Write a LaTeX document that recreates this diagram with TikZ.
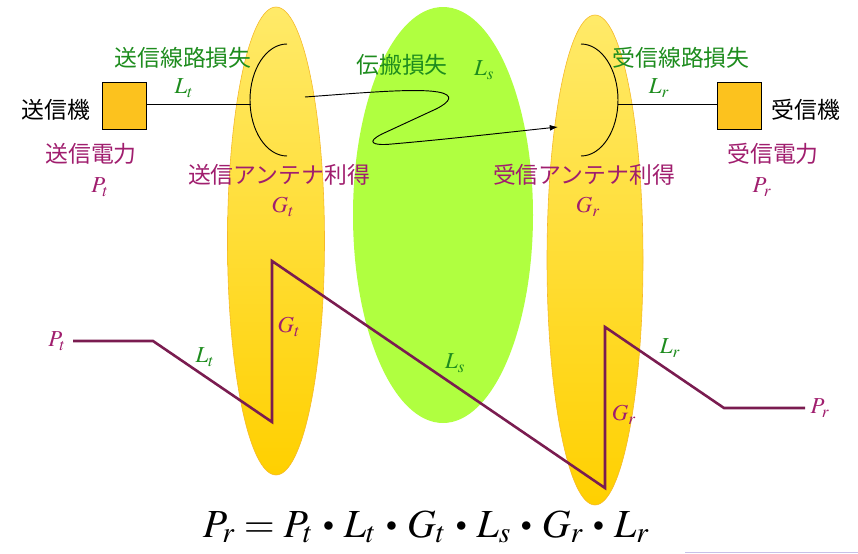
\documentclass[tikz,border=0pt]{standalone}
\usepackage{mathptmx}
\usepackage[no-math]{fontspec}
\newfontfamily\jpfont{Noto Sans CJK JP}
\usetikzlibrary{arrows.meta}
\definecolor{lossgreen}{RGB}{30,140,30}
\definecolor{gainpurple}{RGB}{160,30,110}
\definecolor{levelplum}{RGB}{122,28,80}
\definecolor{boxgold}{RGB}{252,194,30}
\definecolor{antlight}{RGB}{255,234,105}
\definecolor{antdeep}{RGB}{255,208,0}
\definecolor{antedge}{RGB}{245,185,40}
\definecolor{pathgreen}{RGB}{176,255,64}
\definecolor{rulelav}{RGB}{200,192,232}
\newcommand{\budgetdot}{\mathbin{\,\vcenter{\hbox{\scalebox{0.55}{$\bullet$}}}\,}}
\begin{document}
\begin{tikzpicture}[x=0.03cm, y=-0.03cm,
    jp/.style={font=\jpfont\fontsize{19.5}{22}\selectfont, inner sep=0pt},
    sym/.style={font=\fontsize{19.5}{22}\selectfont, inner sep=0pt},
    devbox/.style={draw=black, fill=boxgold, line width=0.8pt, minimum width=1.32cm, minimum height=1.41cm, inner sep=0pt},
    antzone/.style={draw=antedge, line width=0.5pt, top color=antlight, bottom color=antdeep},
    levelline/.style={draw=levelplum, line width=2.2pt, line join=miter}]
    \useasboundingbox (0,0) rectangle (858,553);
    % zones
    \draw[antzone] (276,241) ellipse (48.5 and 234);
    \fill[pathgreen] (443,215) ellipse (90 and 208);
    \draw[antzone] (595,260) ellipse (48 and 245);
    % transmitter and receiver
    \node[devbox] (txbox) at (124,105.5) {};
    \node[devbox] (rxbox) at (739,105.5) {};
    \node[jp] (txname) at (56,110) {送信機};
    \node[jp] (rxname) at (806,110) {受信機};
    % antennas
    \draw[line width=0.8pt] (287,44) arc[start angle=270, end angle=90, x radius=37, y radius=56];
    \draw[line width=0.8pt] (581,44) arc[start angle=270, end angle=450, x radius=37, y radius=56];
    \coordinate (txant) at (250.5,104);
    \coordinate (rxant) at (617.5,104);
    \draw[line width=0.8pt] (txbox.east |- txant) -- (txant);
    \draw[line width=0.8pt] (rxant) -- (rxbox.west |- rxant);
    % propagation
    \coordinate (wavefrom) at (305,97);
    \coordinate (waveto) at (558,127);
    \draw[line width=0.8pt, -{Latex[length=7pt, width=5pt]}] (wavefrom) .. controls (360,93) and (415,88) .. (438,92)
        .. controls (455,95) and (450,102) .. (436,109) -- (382,134)
        .. controls (366,142) and (372,146) .. (392,144) .. controls (450,139) and (510,132) .. (waveto);
    % upper labels
    \node[jp, lossgreen] (txlosstxt) at (183,58) {送信線路損失};
    \node[sym, lossgreen] (txloss) at (184,88) {$L_t$};
    \node[jp, lossgreen] (pathlosstxt) at (402,65) {伝搬損失};
    \node[sym, lossgreen] (pathloss) at (484,70) {$L_s$};
    \node[jp, lossgreen] (rxlosstxt) at (681,58) {受信線路損失};
    \node[sym, lossgreen] (rxloss) at (659,88) {$L_r$};
    \node[jp, gainpurple] (txpowtxt) at (91,154) {送信電力};
    \node[sym, gainpurple] (txpow) at (100,187) {$P_t$};
    \node[jp, gainpurple] (txgaintxt) at (279,175) {送信アンテナ利得};
    \node[sym, gainpurple] (txgain) at (283,207) {$G_t$};
    \node[jp, gainpurple] (rxgaintxt) at (584,175) {受信アンテナ利得};
    \node[sym, gainpurple] (rxgain) at (588,207) {$G_r$};
    \node[jp, gainpurple] (rxpowtxt) at (773,154) {受信電力};
    \node[sym, gainpurple] (rxpow) at (762,187) {$P_r$};
    % level diagram
    \coordinate (lv0) at (73,341);
    \coordinate (lv1) at (153,341);
    \coordinate (lv2) at (272,422);
    \coordinate (lv3) at (272,261);
    \coordinate (lv4) at (605,488);
    \coordinate (lv5) at (605,327);
    \coordinate (lv6) at (724,408);
    \coordinate (lv7) at (805,408);
    \draw[levelline] (lv0) -- (lv1) -- (lv2) -- (lv3) -- (lv4) -- (lv5) -- (lv6) -- (lv7);
    \node[sym, gainpurple] (lvtxpow) at (57,341) {$P_t$};
    \node[sym, lossgreen] (lvtxloss) at (205,357) {$L_t$};
    \node[sym, gainpurple] (lvtxgain) at (289,327) {$G_t$};
    \node[sym, lossgreen] (lvpathloss) at (455,363) {$L_s$};
    \node[sym, gainpurple] (lvrxgain) at (624,415) {$G_r$};
    \node[sym, lossgreen] (lvrxloss) at (670,348) {$L_r$};
    \node[sym, gainpurple] (lvrxpow) at (820,408) {$P_r$};
    % budget
    \node[font=\fontsize{34}{37}\selectfont, inner sep=0pt, anchor=base] (budget) at (426,537)
        {$P_r = P_t \budgetdot L_t \budgetdot G_t \budgetdot L_s \budgetdot G_r \budgetdot L_r$};
    \draw[rulelav, line width=0.8pt] (685,552) -- (858,552);
\end{tikzpicture}
\end{document}
